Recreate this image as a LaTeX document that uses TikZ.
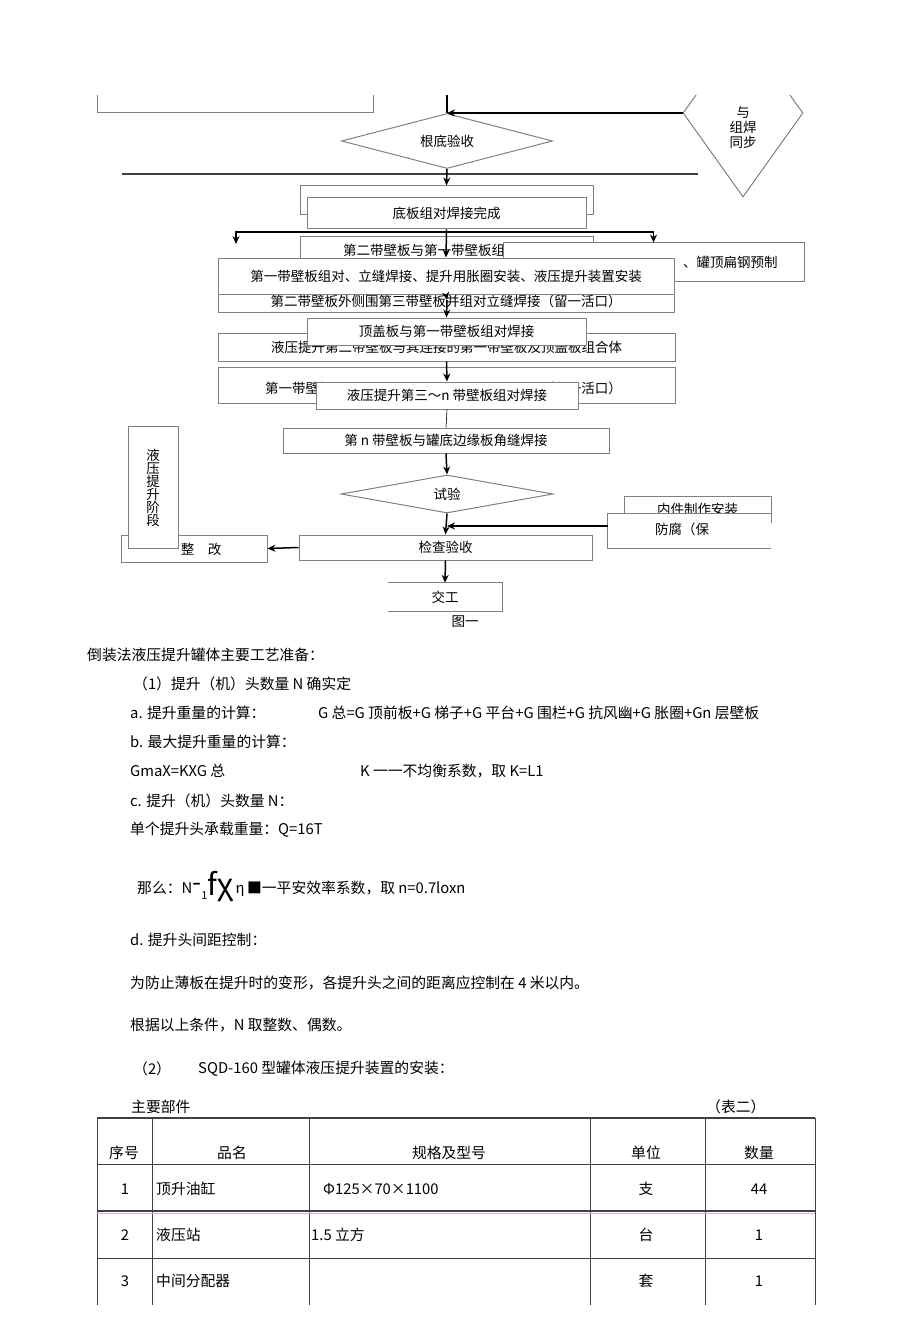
\documentclass[tikz,border=0pt]{standalone}
\usepackage{fontspec}
\setmainfont{Noto Sans CJK SC}
\usetikzlibrary{shapes.geometric,arrows.meta}
\begin{document}
\begin{tikzpicture}[x=1pt,y=-1pt,
  box/.style={draw=black!50, fill=white, line width=1pt, inner sep=0pt, font=\fontsize{13.5}{16}\selectfont},
  dia/.style={diamond, draw=black!50, fill=white, line width=1pt, inner sep=0pt, font=\fontsize{13.5}{16}\selectfont},
  side/.style={draw=black!50, line width=1pt},
  arr/.style={draw=black, line width=1.5pt, -{Stealth[length=8pt,width=7pt]}},
  lin/.style={draw=black, line width=1.5pt},
  lbl/.style={inner sep=0pt, font=\fontsize{13.5}{16}\selectfont},
  txt/.style={inner sep=0pt, anchor=west, font=\fontsize{14.8}{17}\selectfont},
  cell/.style={inner sep=0pt, font=\fontsize{14.8}{17}\selectfont},
  tline/.style={draw=black!75, line width=1pt}]
\useasboundingbox (0,0) rectangle (920,1340);
\clip (0,96) rectangle (920,1340);
% flow chart
\coordinate (tl1) at (97,60);
\coordinate (tl2) at (97,113);
\coordinate (tl3) at (373,113);
\coordinate (tl4) at (373,60);
\draw[side] (tl1) -- (tl2) -- (tl3) -- (tl4);
\node[dia, aspect=3.8, minimum width=211pt, minimum height=55pt] (gd) at (447,141) {根底验收};
\node[dia, minimum width=120pt, minimum height=168pt] (vd) at (743,113) {};
\node[lbl, align=center, font=\fontsize{13.5}{15}\selectfont] (vdt) at (743,128) {与\\组焊\\同步};
\coordinate (gtop) at (447,95);
\draw[lin] (gtop) -- (gd.north);
\draw[arr] (vd.west) -- (gd.north);
\coordinate (h1) at (122,174);
\coordinate (h2) at (698,174);
\draw[draw=black!75, line width=1.8pt] (h1) -- (h2);
\node[box, minimum width=293pt, minimum height=29pt] (ba) at (446.5,200.5) {};
\node[box, minimum width=279pt, minimum height=31pt] (bb) at (446.5,213.5) {底板组对焊接完成};
\node[box, minimum width=293pt, minimum height=35pt] (bc) at (446.5,254.5) {};
\node[lbl, anchor=west] (bct) at (343,250) {第二带壁板与第一带壁板组};
\node[box, minimum width=301pt, minimum height=38pt] (bd) at (653.5,262) {};
\node[lbl, anchor=west] (bdt) at (683,262) {、罐顶扁钢预制};
\node[box, minimum width=456pt, minimum height=27pt] (bf) at (446,298.5) {};
\node[lbl] (bft) at (446,301) {第二带壁板外侧围第三带壁板并组对立缝焊接（留一活口）};
\node[box, minimum width=456pt, minimum height=36pt] (be) at (446,276) {第一带壁板组对、立缝焊接、提升用胀圈安装、液压提升装置安装};
\node[box, minimum width=457pt, minimum height=28pt] (bh) at (446.5,347) {液压提升第二带壁板与其连接的第一带壁板及顶盖板组合体};
\node[box, minimum width=279pt, minimum height=27pt] (bg) at (446.5,331.5) {顶盖板与第一带壁板组对焊接};
\node[box, minimum width=457pt, minimum height=36pt] (bi) at (446.5,385) {};
\node[lbl, anchor=west] (bit1) at (265,388) {第一带壁板};
\node[lbl, anchor=east] (bit2) at (622,388) {（留一活口）};
\node[box, minimum width=262pt, minimum height=27pt] (bj) at (447,395.5) {液压提升第三～n 带壁板组对焊接};
\node[box, minimum width=326pt, minimum height=25pt] (bk) at (446,440.5) {第 n 带壁板与罐底边缘板角缝焊接};
\node[dia, aspect=5.6, minimum width=212pt, minimum height=38pt] (sy) at (447,494) {试验};
\node[box, minimum width=147pt, minimum height=26pt] (bm) at (697.5,509) {内件制作安装};
\node[fill=white, inner sep=0pt, minimum width=163pt, minimum height=34pt] (bn) at (689.5,531) {};
\draw[side] (bn.north east) -- (bn.north west) -- (bn.south west) -- (bn.south east);
\node[lbl, anchor=west] (bnt) at (655,529) {防腐（保};
\node[box, minimum width=293pt, minimum height=25pt] (bl) at (445.5,547.5) {检查验收};
\node[box, minimum width=146pt, minimum height=27pt] (bo) at (194,548.5) {};
\node[lbl] (bot) at (201,549) {整\quad 改};
\node[box, minimum width=50pt, minimum height=122pt] (bp) at (153,487) {};
\node[lbl, align=center, font=\fontsize{13.5}{13}\selectfont] (bpt) at (153,487.5) {液\\压\\提\\升\\阶\\段};
\node[inner sep=0pt, minimum width=114pt, minimum height=28pt, font=\fontsize{13.5}{16}\selectfont] (bq) at (445,597) {交工};
\draw[side] (bq.north west) -- (bq.north east) -- (bq.south east) -- (bq.south west);
\node[lbl] (cap) at (465,622) {图一};
% connectors
\draw[arr] (gd.south) -- (ba.north);
\draw[arr] (bb.south) -- (be.north);
\coordinate (b1) at (447,232);
\coordinate (bl1) at (236,244);
\draw[arr] (b1) -| (bl1);
\draw[arr] (b1) -| (bd.north);
\coordinate (e1) at (447,300);
\draw[arr] (be.south) -- (e1);
\draw[arr] (e1) -- (bg.north);
\draw[arr] (bh.south) -- (bj.north);
\draw[draw=black, line width=0.6pt] (bj.south) -- (bk.north);
\draw[arr] (bk.south) -- (sy.north);
\draw[arr] (sy.south) -- (bl.north);
\coordinate (m1) at (447,526);
\draw[arr] ([yshift=5pt]bn.west) -- (m1);
\draw[arr] (bl.west) -- (bo.east);
\draw[arr] (bl.south) -- (bq.north);
% text
\node[txt] (t1) at (87,655) {倒装法液压提升罐体主要工艺准备：};
\node[txt] (t2) at (133,684) {（1）提升（机）头数量 N 确实定};
\node[txt] (t3) at (130,713) {a. 提升重量的计算：};
\node[txt] (t3b) at (318,713) {G 总=G 顶前板+G 梯子+G 平台+G 围栏+G 抗风幽+G 胀圈+Gn 层壁板};
\node[txt] (t4) at (130,742) {b. 最大提升重量的计算：};
\node[txt] (t5) at (130,771) {GmaX=KXG 总};
\node[txt] (t5b) at (360,771) {K 一一不均衡系数，取 K=L1};
\node[txt] (t6) at (130,801) {c. 提升（机）头数量 N：};
\node[txt] (t7) at (130,830) {单个提升头承载重量：Q=16T};
\node[txt] (t8) at (137,887) {那么：N\raisebox{2pt}{\fontsize{26}{26}\selectfont -}\raisebox{-6pt}{\fontsize{11}{11}\selectfont 1}\raisebox{-2pt}{\fontsize{30}{30}\selectfont fχ}\,η\,■一平安效率系数，取 n=0.7loxn};
\node[txt] (t9) at (130,940) {d. 提升头间距控制：};
\node[txt] (t10) at (130,983) {为防止薄板在提升时的变形，各提升头之间的距离应控制在 4 米以内。};
\node[txt] (t11) at (130,1025) {根据以上条件，N 取整数、偶数。};
\node[txt] (t12) at (133,1069) {（2）};
\node[txt] (t12b) at (198,1069) {SQD-160 型罐体液压提升装置的安装：};
\node[txt] (t13) at (131,1107) {主要部件};
\node[txt] (t13b) at (706,1107) {（表二）};
% table
\foreach \x in {97,152,309,590,705,815}
  \draw[tline] (\x,1118) -- (\x,1305);
\draw[tline, line width=1.4pt] (97,1118) -- (815,1118);
\draw[tline] (97,1164) -- (815,1164);
\draw[tline, line width=1.4pt] (97,1211) -- (815,1211);
\draw[draw=violet!30, line width=1pt] (97,1213) -- (815,1213);
\draw[tline] (97,1258) -- (815,1258);
\node[cell] (h1c) at (124,1153) {序号};
\node[cell] (h2c) at (232,1153) {品名};
\node[cell] (h3c) at (449,1153) {规格及型号};
\node[cell] (h4c) at (646,1153) {单位};
\node[cell] (h5c) at (759,1153) {数量};
\node[cell] (r1a) at (125,1189) {1};
\node[cell, anchor=west] (r1b) at (156,1189) {顶升油缸};
\node[cell, anchor=west] (r1c) at (323,1189) {Φ125×70×1100};
\node[cell] (r1d) at (646,1189) {支};
\node[cell] (r1e) at (759,1189) {44};
\node[cell] (r2a) at (125,1235) {2};
\node[cell, anchor=west] (r2b) at (156,1235) {液压站};
\node[cell, anchor=west] (r2c) at (311,1235) {1.5 立方};
\node[cell] (r2d) at (646,1235) {台};
\node[cell] (r2e) at (759,1235) {1};
\node[cell] (r3a) at (125,1281) {3};
\node[cell, anchor=west] (r3b) at (156,1281) {中间分配器};
\node[cell] (r3d) at (646,1281) {套};
\node[cell] (r3e) at (759,1281) {1};
\end{tikzpicture}
\end{document}
